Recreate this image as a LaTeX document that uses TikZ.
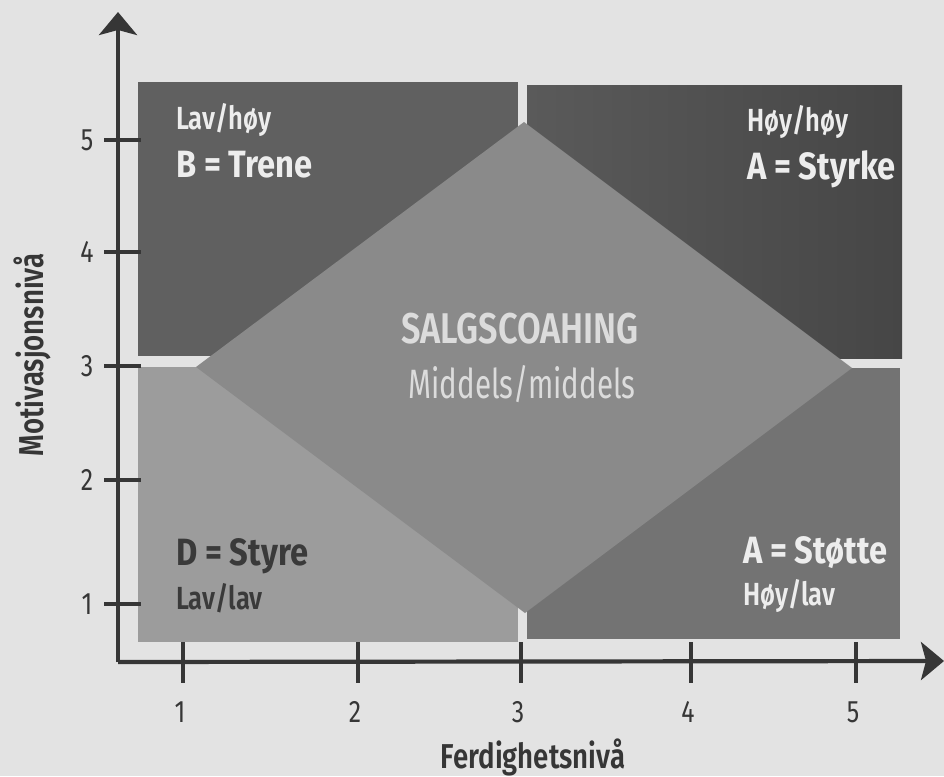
\documentclass[tikz,border=0pt]{standalone}
\usepackage{fontspec}
\setmainfont[FakeStretch=0.8]{Fira Sans}
\newfontfamily\wideb[FakeStretch=0.86]{Fira Sans}
\newfontfamily\narrowr[FakeStretch=0.72]{Fira Sans}
\IfFontExistsTF{Fira Sans SemiBold}{\newfontfamily\semib[FakeStretch=0.8]{Fira Sans SemiBold}}{\newcommand\semib{\bfseries}}
\usetikzlibrary{arrows.meta}
\definecolor{paper}{HTML}{E3E3E3}
\definecolor{qB}{HTML}{606060}
\definecolor{qAl}{HTML}{5A5A5A}
\definecolor{qAr}{HTML}{464646}
\definecolor{qD}{HTML}{9C9C9C}
\definecolor{qS}{HTML}{737373}
\definecolor{dia}{HTML}{8A8A8A}
\definecolor{axiscol}{HTML}{363636}
\definecolor{lt}{HTML}{EDEDED}
\definecolor{ct}{HTML}{DCDCDC}
\definecolor{dk}{HTML}{3A3A3A}
\tikzset{
  axisline/.style={draw=axiscol, line width=4.2pt},
  tickline/.style={draw=axiscol, line width=3.4pt},
  subtxt/.style={anchor=base west, inner sep=0pt, font=\semib\fontsize{32}{32}\selectfont},
  maintxt/.style={anchor=base west, inner sep=0pt, font=\wideb\bfseries\fontsize{38}{38}\selectfont},
  ticktxt/.style={inner sep=0pt, text=axiscol, font=\fontsize{31}{31}\selectfont},
  axtxt/.style={inner sep=0pt, text=axiscol, font=\semib\fontsize{34.5}{34.5}\selectfont},
}
\begin{document}
\begin{tikzpicture}[x=1pt,y=-1pt]
\useasboundingbox (0,0) rectangle (944,776);
\fill[paper] (0,0) rectangle (944,776);
% quadrants
\fill[qB] (138,82) rectangle (518,356);
\shade[left color=qAl, right color=qAr] (527,85) rectangle (902,358);
\fill[qD] (138,367) rectangle (518,642);
\fill[qS] (527,368) rectangle (900,639);
% diamond
\fill[dia] (524,122) -- (852,368) -- (525,613) -- (196,367) -- cycle;
% axes
\coordinate (O) at (118,662);
\coordinate (ytip) at (118,12);
\coordinate (xtip) at (944,661);
\draw[axisline, -{Stealth[length=23pt,width=38pt,inset=5pt]}] (O) -- (ytip);
\draw[axisline, -{Stealth[length=23pt,width=38pt,inset=5pt]}] (O) -- (xtip);
% y ticks
\foreach \yy/\lab in {140/5,252/4,366/3,480/2,604/1}{
  \draw[tickline] (104,\yy) -- (141,\yy);
  \node[ticktxt] (ty\lab) at (87,\yy) {\lab};
}
% x ticks
\foreach \xx/\lab in {183/1,358/2,521/3,691/4,856/5}{
  \draw[tickline] (\xx,642) -- (\xx,683);
  \node[ticktxt] (tx\lab) at (\xx-3,712) {\lab};
}
% axis titles
\node[axtxt, rotate=90] (ylab) at (32,355) {Motivasjonsnivå};
\node[axtxt, anchor=base] (xlab) at (533,768) {Ferdighetsnivå};
% quadrant texts
\node[subtxt, text=lt] (bsub) at (176,129) {Lav/høy};
\node[maintxt, text=lt] (bmain) at (176,177) {B = Trene};
\node[subtxt, text=lt] (asub) at (747,131) {Høy/høy};
\node[maintxt, text=lt] (amain) at (747,179) {A = Styrke};
\node[maintxt, text=dk] (dmain) at (176,565) {D = Styre};
\node[subtxt, text=dk] (dsub) at (176,609) {Lav/lav};
\node[maintxt, text=lt] (smain) at (743,563) {A = Støtte};
\node[subtxt, text=lt] (ssub) at (743,605) {Høy/lav};
% center
\node[anchor=base, inner sep=0pt, text=ct, font=\semib\fontsize{43}{43}\selectfont] (ctitle) at (520,343) {SALGSCOAHING};
\node[anchor=base, inner sep=0pt, text=ct, font=\narrowr\fontsize{41}{41}\selectfont] (csub) at (522,398) {Middels/middels};
\end{tikzpicture}
\end{document}
